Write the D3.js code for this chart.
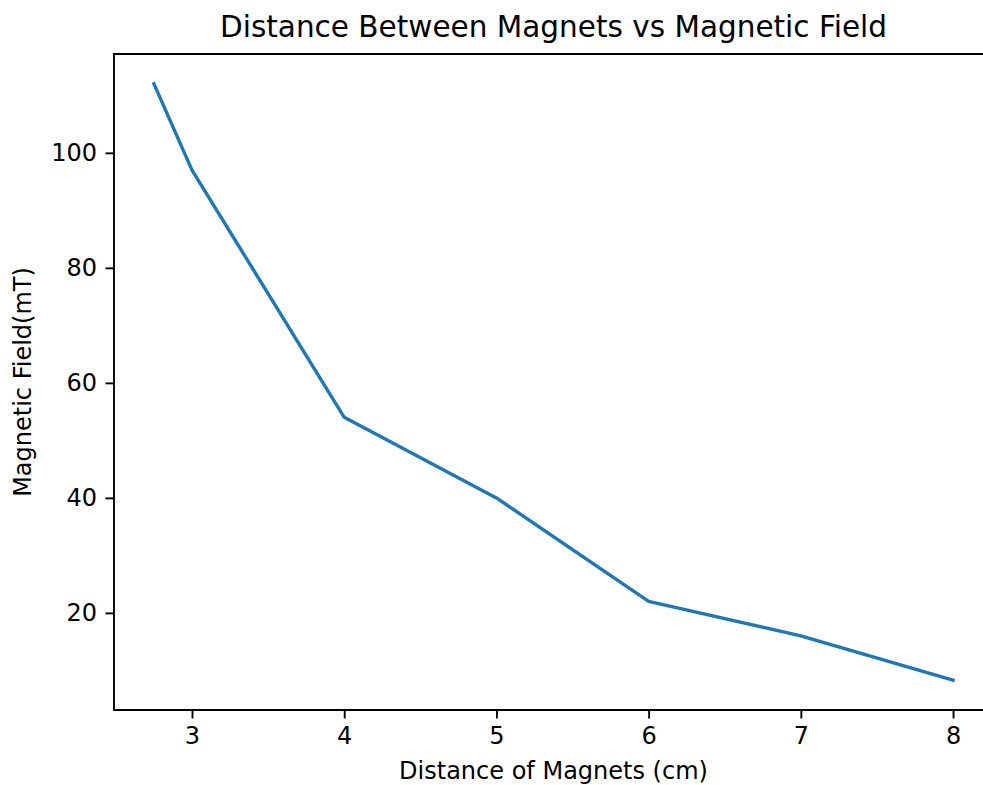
<!DOCTYPE html>
<html>
<head>
<meta charset="utf-8">
<script src="https://cdn.jsdelivr.net/npm/d3@7"></script>
<style>
html,body{margin:0;padding:0;background:#fff;overflow:hidden;}
svg{display:block;font-family:"DejaVu Sans",sans-serif;overflow:hidden;}
</style>
</head>
<body>
<svg id="chart" width="983" height="785"></svg>
<script>
const distances = [2.75, 3, 4, 5, 6, 7, 8];
const fields = [112, 97, 54, 40, 22, 16, 8.3];
const xTicks = [3, 4, 5, 6, 7, 8];
const yTicks = [20, 40, 60, 80, 100];

(function () {
const svg = d3.select("#chart");
const mLeft = 114, mRight = 993, mTop = 54, mBottom = 710;

const xMin = d3.min(distances), xMax = d3.max(distances);
const xPad = (xMax - xMin) * 0.05;
const yMin = d3.min(fields), yMax = d3.max(fields);
const yPad = (yMax - yMin) * 0.05;

const x = d3.scaleLinear().domain([xMin - xPad, xMax + xPad]).range([mLeft, mRight]);
const y = d3.scaleLinear().domain([yMin - yPad, yMax + yPad]).range([mBottom, mTop]);

const line = d3.line().x((d, i) => x(distances[i])).y(d => y(d));
svg.append("path")
  .datum(fields)
  .attr("d", line)
  .attr("fill", "none")
  .attr("stroke", "#1f77b4")
  .attr("stroke-width", 3.4)
  .attr("stroke-linejoin", "round")
  .attr("stroke-linecap", "square");

const xAxis = svg.append("g").attr("transform", `translate(0,${mBottom})`)
  .call(d3.axisBottom(x).tickValues(xTicks).tickFormat(d3.format("d")).tickSize(8.5).tickPadding(8.5));
const yAxis = svg.append("g").attr("transform", `translate(${mLeft},0)`)
  .call(d3.axisLeft(y).tickValues(yTicks).tickFormat(d3.format("d")).tickSize(8.5).tickPadding(8.5));

[xAxis, yAxis].forEach(g => {
  g.select(".domain").remove();
  g.selectAll("line").attr("stroke", "#000").attr("stroke-width", 1.9);
  g.selectAll("text").attr("font-size", 24).attr("fill", "#000").attr("font-family", "DejaVu Sans");
});

const spine = (x1, y1, x2, y2) => svg.append("line").attr("x1", x1).attr("y1", y1).attr("x2", x2).attr("y2", y2)
  .attr("stroke", "#000").attr("stroke-width", 1.9).attr("stroke-linecap", "square");
spine(mLeft, mBottom, mRight, mBottom);
spine(mLeft, mTop, mRight, mTop);
spine(mLeft, mTop, mLeft, mBottom);

svg.append("text").attr("x", (mLeft + mRight) / 2).attr("y", 37)
  .attr("text-anchor", "middle").attr("font-size", 29.5).attr("fill", "#000")
  .text("Distance Between Magnets vs Magnetic Field");

svg.append("text").attr("x", (mLeft + mRight) / 2).attr("y", 779)
  .attr("text-anchor", "middle").attr("font-size", 24).attr("fill", "#000")
  .text("Distance of Magnets (cm)");

svg.append("text").attr("transform", `translate(31,${(mTop + mBottom) / 2}) rotate(-90)`)
  .attr("text-anchor", "middle").attr("font-size", 24).attr("fill", "#000")
  .text("Magnetic Field(mT)");
})();
</script>
</body>
</html>
